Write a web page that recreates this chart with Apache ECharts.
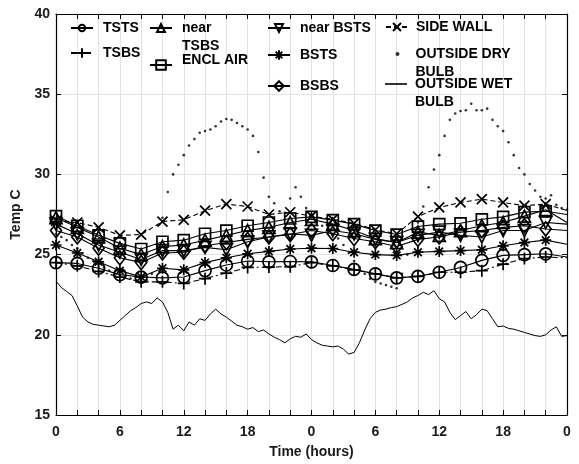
<!DOCTYPE html>
<html>
<head>
<meta charset="utf-8">
<script src="https://cdn.jsdelivr.net/npm/echarts@6/dist/echarts.min.js"></script>
<style>
html,body{margin:0;padding:0;background:#fff;}
#chart{width:579px;height:464px;}
</style>
</head>
<body>
<div id="chart"></div>
<script>
// ---- data ----
const markerHours = [0,2,4,6,8,10,12,14,16,18,20,22,24,26,28,30,32,34,36,38,40,42,44,46,48];
const tsts     = [24.5,24.45,24.15,23.75,23.6,23.55,23.6,24.0,24.35,24.6,24.55,24.57,24.55,24.32,24.08,23.8,23.55,23.64,23.9,24.2,24.64,24.95,25.0,25.05,24.85];
const tsbs     = [24.5,24.3,23.95,23.6,23.3,23.3,23.2,23.5,23.85,24.2,24.22,24.25,24.5,24.3,24.05,23.8,23.55,23.64,23.9,23.9,24.0,24.4,24.75,24.85,24.8];
const nearTsbs = [27.3,26.7,26.1,25.4,25.0,25.5,25.6,25.9,26.2,26.5,26.7,27.0,27.2,26.9,26.5,26.0,25.75,26.4,26.2,26.5,26.8,27.0,27.4,27.8,27.0];
const enclAir  = [27.4,26.8,26.2,25.7,25.35,25.8,25.9,26.3,26.5,26.8,27.0,27.25,27.35,27.15,26.9,26.5,26.25,26.75,26.9,26.95,27.2,27.35,27.65,27.7,27.5];
const nearBsts = [26.9,26.3,25.6,25.15,24.7,25.25,25.25,25.45,25.3,25.8,26.1,26.3,26.2,26.5,26.3,25.95,25.75,26.2,26.4,26.2,26.1,26.5,26.5,27.0,26.9];
const bsts     = [25.6,25.1,24.55,24.0,23.6,24.15,24.05,24.5,24.8,25.05,25.2,25.35,25.4,25.38,25.15,25.0,24.95,25.15,25.2,25.25,25.3,25.55,25.75,25.9,25.65];
const bsbs     = [26.5,26.1,25.4,24.8,24.5,25.1,25.15,25.55,25.75,25.95,26.1,26.25,26.5,26.3,26.0,25.8,25.5,25.95,26.1,26.4,26.5,26.7,26.8,26.6,26.5];
const sideWall = [27.1,27.0,26.7,26.2,26.25,27.06,27.17,27.74,28.15,28.0,27.5,27.64,27.4,27.2,26.95,26.55,26.3,27.37,27.94,28.25,28.46,28.25,28.05,28.15,27.75];

// outside readings every half hour, 0 .. 48 h
const fineStepHours = 0.5;
const outsideDry = [
  26.3,26.1,25.9,25.6,25.4,25.1,24.8,24.6,24.4,24.2,
  24.0,23.8,23.7,23.6,23.5,23.4,23.35,23.4,23.8,25.3,
  27.3,28.9,30.0,30.6,31.2,31.8,32.2,32.6,32.7,32.8,
  33.0,33.3,33.45,33.4,33.2,33.0,32.8,32.4,31.4,29.8,
  28.6,28.2,27.7,27.6,28.5,29.2,28.6,27.9,27.3,27.0,
  26.8,26.6,26.3,26.0,25.6,25.1,24.6,24.2,23.8,23.5,
  23.3,23.2,23.1,23.0,22.9,23.8,25.0,26.2,27.0,28.0,
  29.2,30.3,31.2,32.4,33.4,33.8,33.95,34.0,34.4,34.0,
  34.0,34.1,33.4,33.0,32.7,32.0,31.2,30.4,30.0,29.4,
  29.0,28.6,28.5,28.7,28.1,27.9,27.8
];
const outsideWet = [
  23.35,22.95,22.7,22.45,21.8,21.1,20.8,20.65,20.6,20.55,
  20.5,20.6,20.9,21.2,21.5,21.7,21.95,22.05,21.95,22.3,
  22.05,21.4,20.35,20.6,20.25,20.8,20.6,21.0,20.9,21.3,
  21.6,21.3,21.1,20.85,20.6,20.5,20.35,20.45,20.2,20.3,
  20.05,19.85,19.7,19.5,19.75,19.9,19.85,20.05,19.7,19.5,
  19.35,19.3,19.25,19.3,19.1,18.8,18.9,19.5,20.3,21.0,
  21.4,21.55,21.6,21.7,21.75,21.9,22.05,22.3,22.45,22.65,
  22.5,22.75,22.25,22.05,21.4,20.95,21.2,21.45,21.0,21.25,
  21.6,21.5,21.0,20.5,20.55,20.4,20.35,20.25,20.15,20.05,
  19.95,19.9,20.0,20.3,20.5,19.9,19.95
];
const yTicks = [15,20,25,30,35,40];
const xLabelStep = 6;

// ---- chart ----
const FONT = "'Liberation Sans', Arial, Helvetica, sans-serif";
const INK = '#000';

function markerData(vals){
  return vals.map((v,i)=> i === vals.length-1
    ? {value:[markerHours[i], v], symbol:'none'}
    : [markerHours[i], v]);
}
function fineData(vals){
  return vals.map((v,i)=>[i*fineStepHours, v]);
}
const PLUS = 'path://M0,5 L10,5 M5,0 L5,10';
const CROSS = 'path://M0,0 L10,10 M10,0 L0,10';
const STAR = 'path://M5,0 L5,10 M0,5 L10,5 M1.5,1.5 L8.5,8.5 M8.5,1.5 L1.5,8.5';

function markerSeries(name, vals, symbol, size, lineType, extra){
  return Object.assign({
    name, type:'line', data: markerData(vals),
    symbol, symbolSize: size, showAllSymbol:true,
    lineStyle:{color:INK, width:1.1, type: lineType},
    itemStyle:{color:'rgba(0,0,0,0)', borderColor:INK, borderWidth:1.7},
    emphasis:{disabled:true},
    z: 3
  }, extra||{});
}

const series = [
  markerSeries('TSTS', tsts, 'circle', 12, 'solid'),
  markerSeries('TSBS', tsbs, PLUS, 12, [6,3,2,3]),
  markerSeries('near TSBS', nearTsbs, 'triangle', 12, 'solid'),
  markerSeries('ENCL AIR', enclAir, 'rect', 11, 'solid'),
  markerSeries('near BSTS', nearBsts, 'triangle', 12, 'solid', {symbolRotate:180}),
  markerSeries('BSTS', bsts, STAR, 11, 'solid'),
  markerSeries('BSBS', bsbs, 'diamond', [11,14], 'solid'),
  markerSeries('SIDE WALL', sideWall, CROSS, 10, [5,3]),
  {
    name:'OUTSIDE DRY BULB', type:'scatter', data: fineData(outsideDry),
    symbol:'circle', symbolSize:2.6, itemStyle:{color:INK}, emphasis:{disabled:true}, z:4
  },
  {
    name:'OUTSIDE WET BULB', type:'line', data: fineData(outsideWet),
    symbol:'none', lineStyle:{color:INK, width:1}, itemStyle:{color:INK},
    emphasis:{disabled:true}, z:3
  }
];

const legTxt = {fontFamily:FONT, fontWeight:'bold', fontSize:14, color:INK};
// each legend entry is placed on its own, like the wrapped multi-column legend of the reference
function leg(name, label, left, cy, opts){
  opts = opts || {};
  const padL = opts.padL != null ? opts.padL : 5;
  const ih = opts.ih || 12;
  let text, lh, top;
  if (label.indexOf('\n') >= 0) {
    // first line level with the icon, second line below it
    lh = 18; text = ' \n' + label; top = cy - 27;
  } else if (opts.raise) {
    // text sits slightly above the icon
    lh = opts.raise * 2; text = label + '\n '; top = cy - Math.max(lh, ih/2);
  } else {
    lh = 16; text = label; top = cy - Math.max(lh, ih)/2;
  }
  const item = opts.icon ? {name, icon: opts.icon} : {name};
  return {
    data:[item], left, top, padding:0, orient:'horizontal',
    itemWidth: opts.iw || 22, itemHeight: ih, itemGap:0, selectedMode:false,
    formatter: () => text,
    textStyle: Object.assign({}, legTxt, {lineHeight: lh, padding:[0,0,0,padL]})
  };
}
const legends = [
  leg('TSTS', 'TSTS', 70, 28, {ih:8}),
  leg('TSBS', 'TSBS', 70, 53, {ih:12}),
  leg('near TSBS', 'near\nTSBS', 149, 28, {ih:10}),
  leg('ENCL AIR', 'ENCL AIR', 149, 63, {ih:12, raise:5}),
  leg('near BSTS', 'near BSTS', 267, 28, {ih:10}),
  leg('BSTS', 'BSTS', 267, 55, {ih:12}),
  leg('BSBS', 'BSBS', 267, 86, {ih:12}),
  leg('SIDE WALL', 'SIDE WALL', 385, 27, {ih:10, padL:3}),
  leg('OUTSIDE DRY BULB', 'OUTSIDE DRY\nBULB', 395.5, 54, {ih:4, iw:4, icon:'circle', padL:11}),
  leg('OUTSIDE WET BULB', 'OUTSIDE WET\nBULB', 385, 84, {ih:12, padL:3, icon:'path://M0,0 L22,0 L22,1.6 L0,1.6 Z'})
];

const axisLabelStyle = {fontFamily:FONT, fontWeight:'bold', fontSize:14, color:'#1a1a1a'};
const gridLine = {show:true, lineStyle:{color:'#e2e2e2', width:1}};
const tick = {show:true, inside:true, length:5, lineStyle:{color:INK, width:1}};
const axLine = {show:true, onZero:false, lineStyle:{color:INK, width:1.2}};

const option = {
  animation:false,
  backgroundColor:'#fff',
  grid:{left:56, right:12, top:14, bottom:47, containLabel:false},
  legend: legends,
  xAxis:[
    {type:'value', min:0, max:48, interval:2, position:'bottom',
     axisLine:axLine, axisTick:tick, splitLine:gridLine,
     axisLabel:Object.assign({margin:10, formatter:v => (v % xLabelStep === 0 ? String(v % 24) : '')}, axisLabelStyle),
     name:'Time (hours)', nameLocation:'middle', nameGap:30,
     nameTextStyle:{fontFamily:FONT, fontWeight:'bold', fontSize:14, color:'#1a1a1a'}},
    {type:'value', min:0, max:48, interval:2, position:'top',
     axisLine:axLine, axisTick:tick, splitLine:{show:false}, axisLabel:{show:false}}
  ],
  yAxis:[
    {type:'value', min:yTicks[0], max:yTicks[yTicks.length-1], interval:yTicks[1]-yTicks[0], position:'left',
     axisLine:axLine, axisTick:tick, splitLine:gridLine,
     axisLabel:Object.assign({margin:6}, axisLabelStyle),
     name:'Temp C', nameLocation:'middle', nameGap:30,
     nameTextStyle:{fontFamily:FONT, fontWeight:'bold', fontSize:14, color:'#1a1a1a'}},
    {type:'value', min:yTicks[0], max:yTicks[yTicks.length-1], interval:yTicks[1]-yTicks[0], position:'right',
     axisLine:axLine, axisTick:tick, splitLine:{show:false}, axisLabel:{show:false}}
  ],
  series: series
};

const chart = echarts.init(document.getElementById('chart'), null, {renderer:'canvas'});
chart.setOption(option);
</script>
</body>
</html>
